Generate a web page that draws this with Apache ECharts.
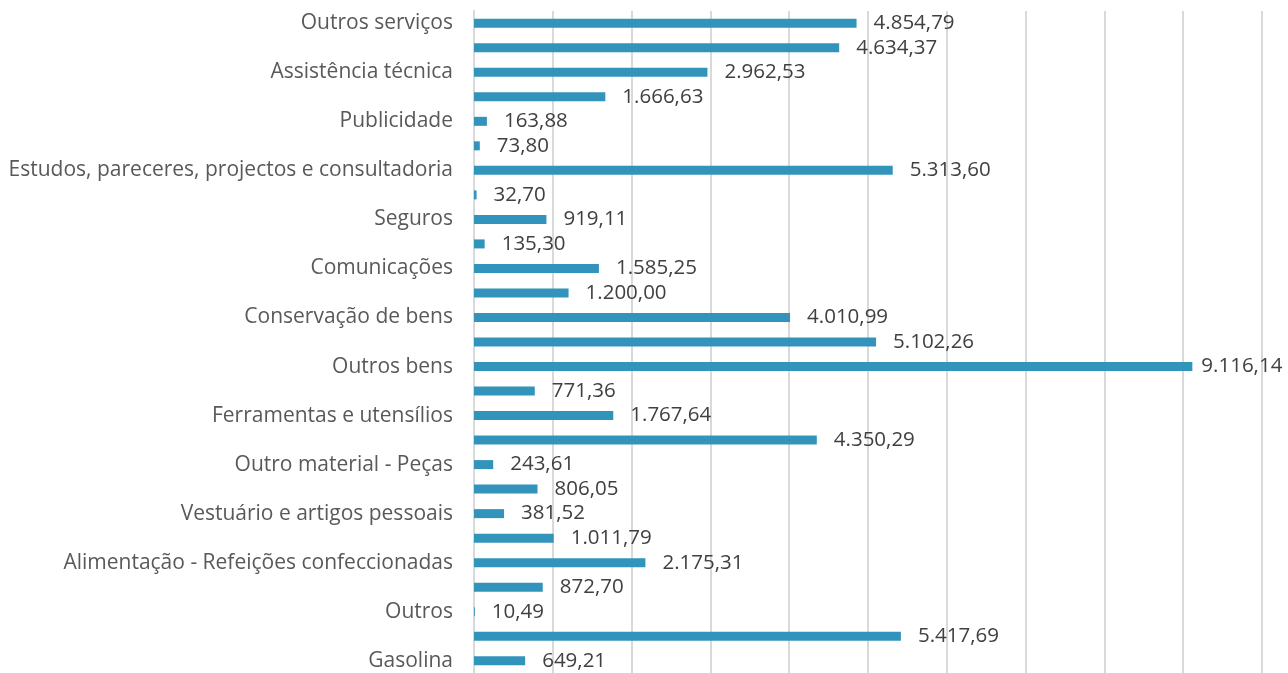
<!DOCTYPE html>
<html>
<head>
<meta charset="utf-8">
<script src="https://cdn.jsdelivr.net/npm/echarts@6/dist/echarts.min.js"></script>
<style>
  html, body { margin: 0; padding: 0; background: #fff; }
  #chart { width: 1288px; height: 673px; }
</style>
</head>
<body>
<div id="chart"></div>
<script>
// top to bottom, only every other row carries a visible label
var categories = [
  'Outros serviços', '',
  'Assistência técnica', '',
  'Publicidade', '',
  'Estudos, pareceres, projectos e consultadoria', '',
  'Seguros', '',
  'Comunicações', '',
  'Conservação de bens', '',
  'Outros bens', '',
  'Ferramentas e utensílios', '',
  'Outro material - Peças', '',
  'Vestuário e artigos pessoais', '',
  'Alimentação - Refeições confeccionadas', '',
  'Outros', '',
  'Gasolina'
];
var values = [
  4854.79, 4634.37,
  2962.53, 1666.63,
  163.88, 73.80,
  5313.60, 32.70,
  919.11, 135.30,
  1585.25, 1200.00,
  4010.99, 5102.26,
  9116.14, 771.36,
  1767.64, 4350.29,
  243.61, 806.05,
  381.52, 1011.79,
  2175.31, 872.70,
  10.49, 5417.69,
  649.21
];

function fmtPt(v){
  var parts = v.toFixed(2).split('.');
  var intPart = parts[0].replace(/\B(?=(\d{3})+(?!\d))/g, '.');
  return intPart + ',' + parts[1];
}

// the longest bar's label is pulled in so it stays inside the picture
var maxVal = Math.max.apply(null, values);
var barData = values.map(function(v){
  return v === maxVal ? { value: v, label: { distance: 9 } } : v;
});

var myChart = echarts.init(document.getElementById('chart'));
myChart.setOption({
  animation: false,
  grid: {
    left: 474,
    right: 26,
    top: 11,
    height: 663
  },
  xAxis: {
    type: 'value',
    min: 0,
    max: 10000,
    interval: 1000,
    axisLabel: { show: false },
    axisLine: { show: false },
    axisTick: { show: false },
    splitLine: { lineStyle: { color: '#d9d9d9', width: 2 } }
  },
  yAxis: {
    type: 'category',
    inverse: true,
    data: categories,
    axisLine: { show: true, lineStyle: { color: '#d9d9d9', width: 2 } },
    axisTick: { show: false },
    axisLabel: {
      interval: 0,
      margin: 21,
      color: '#595959',
      fontFamily: 'Open Sans',
      fontSize: 21
    }
  },
  series: [{
    type: 'bar',
    data: barData,
    barWidth: 9,
    itemStyle: { color: '#3394bb' },
    label: {
      show: true,
      position: 'right',
      distance: 17,
      color: '#404040',
      fontFamily: 'Open Sans',
      fontSize: 20.5,
      formatter: function(p){ return fmtPt(p.value); }
    }
  }]
});
</script>
</body>
</html>
